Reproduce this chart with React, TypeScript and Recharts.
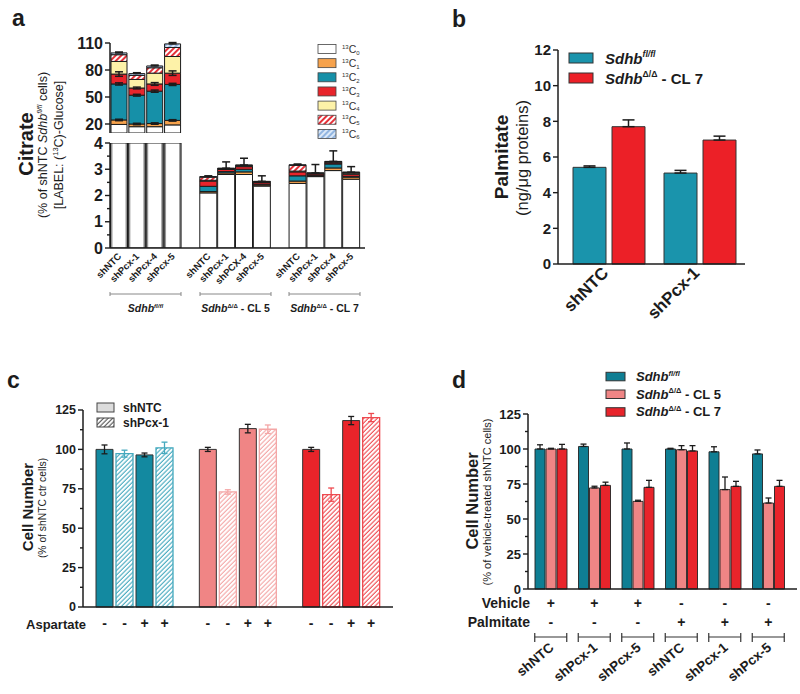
import React from 'react';
import { BarChart, Bar, XAxis, YAxis, ErrorBar, Cell, LabelList } from 'recharts';

const FONT = '"Liberation Sans", Arial, Helvetica, sans-serif';
const INK = '#1c1c1c';

// ---- a: citrate isotopologues, 13C-glucose ----
const citrateLabels = ['shNTC', 'shPcx-1', 'shPcx-4', 'shPcx-5', 'shNTC', 'shPcx-1', 'shPCX-4', 'shPcx-5', 'shNTC', 'shPcx-1', 'shPcx-4', 'shPcx-5'];
const citrateC0 = [19.5, 17, 17, 19, 2.1, 2.8, 2.8, 2.36, 2.46, 2.72, 2.95, 2.62];
const citrateC1 = [5, 3, 3.5, 5, 0.05, 0.06, 0.1, 0.04, 0.09, 0.03, 0.1, 0.08];
const citrateC2 = [40, 32, 36, 40, 0.2, 0.05, 0.1, 0.03, 0.2, 0.02, 0.15, 0.03];
const citrateC3 = [11, 8, 8, 12.5, 0.2, 0.08, 0.1, 0.06, 0.15, 0.05, 0.04, 0.08];
const citrateC4 = [14, 9.5, 12, 18.5, 0.03, 0.02, 0.03, 0.02, 0.03, 0.02, 0.03, 0.04];
const citrateC5 = [7.5, 4.5, 6, 10, 0.12, 0.02, 0.02, 0.02, 0.22, 0.01, 0.02, 0.03];
const citrateC6 = [2, 2, 2, 4, 0.02, 0.01, 0.01, 0.01, 0.02, 0.01, 0.01, 0.01];
const citrateErrC1 = [0.8, 0.8, 0.8, 0.8, 0, 0, 0, 0, 0, 0, 0, 0];
const citrateErrC2 = [1.2, 1, 1.2, 1.2, 0, 0, 0, 0, 0, 0, 0, 0];
const citrateErrC3 = [2.5, 1, 1.5, 2.5, 0, 0, 0, 0, 0, 0, 0, 0];
const citrateErrTop = [1, 1, 1, 1.5, 0.03, 0.24, 0.26, 0.21, 0.03, 0.32, 0.4, 0.21];

const isoValues = [citrateC0, citrateC1, citrateC2, citrateC3, citrateC4, citrateC5, citrateC6];
const isoErrs = [null, citrateErrC1, citrateErrC2, citrateErrC3, null, null, null];
const isoFills = ['#ffffff', '#f6a24c', '#1690a8', '#e8252b', '#fdf2a8', 'url(#hatchC5)', 'url(#hatchC6)'];

// ---- b: palmitate ----
const palmCats = ['shNTC', 'shPcx-1'];
const palmFl = [5.42, 5.1];
const palmFlErr = [0.08, 0.15];
const palmCl7 = [7.7, 6.95];
const palmCl7Err = [0.38, 0.22];

// ---- c: aspartate rescue ----
const aspGroups = ['fl', 'cl5', 'cl7'];
const ntcNoAsp = [100, 100, 100];
const ntcNoAspErr = [2.8, 1.3, 1.3];
const pcxNoAsp = [97.3, 73, 71.3];
const pcxNoAspErr = [2.2, 1.4, 4.2];
const ntcAsp = [96.5, 113.2, 118.3];
const ntcAspErr = [1.2, 2.7, 2.6];
const pcxAsp = [101, 112.8, 120.2];
const pcxAspErr = [3.6, 2.7, 2.6];
const aspSigns = ['-', '-', '+', '+'];

// ---- d: palmitate rescue ----
const treatLabels = ['shNTC', 'shPcx-1', 'shPcx-5', 'shNTC', 'shPcx-1', 'shPcx-5'];
const vehicleSigns = ['+', '+', '+', '-', '-', '-'];
const palmitateSigns = ['-', '-', '-', '+', '+', '+'];
const cellsFl = [100, 101.8, 100, 100, 98, 96.5];
const cellsFlErr = [3, 1.7, 4.3, 0.5, 3.6, 2.8];
const cellsCl5 = [100, 72.2, 62.6, 99.5, 71, 61.4];
const cellsCl5Err = [0.5, 1.2, 0.8, 2.9, 9, 3.6];
const cellsCl7 = [100, 74, 72.6, 98.6, 73.3, 73.3];
const cellsCl7Err = [3.3, 2.3, 5, 3.8, 3.6, 4.3];

// rows for the two halves of the broken axis in a
const buildCitrateRows = (part: 'top' | 'bottom') => {
  const rows: any[] = [];
  citrateLabels.forEach((label, i) => {
    const grp = Math.floor(i / 4);
    if (i > 0 && i % 4 === 0) {
      const gap: any = { label: '', grp: -1, topErr: 0 };
      isoValues.forEach((_, k) => { gap[`c${k}`] = 0; gap[`e${k}`] = 0; });
      rows.push(gap);
    }
    const row: any = { label, grp };
    // top half only shows the Sdhb fl/fl bars, bottom half shows only their C0 base
    const shown = part === 'top' ? grp === 0 : true;
    isoValues.forEach((vals, k) => {
      const keep = shown && (part === 'top' || grp > 0 || k === 0);
      row[`c${k}`] = keep ? vals[i] : 0;
      const e = isoErrs[k];
      row[`e${k}`] = part === 'top' && e && e[i] ? e[i] : 0;
    });
    const topShown = part === 'top' ? grp === 0 : grp > 0;
    row.topErr = topShown ? [0, citrateErrTop[i]] : 0;
    rows.push(row);
  });
  return rows;
};
const citrateTopRows = buildCitrateRows('top');
const citrateBottomRows = buildCitrateRows('bottom');

const palmRows = palmCats.map((name, i) => ({
  name, fl: palmFl[i], flErr: [0, palmFlErr[i]], cl7: palmCl7[i], cl7Err: [0, palmCl7Err[i]],
}));

const aspSeries = [
  { vals: ntcNoAsp, errs: ntcNoAspErr, hatched: false },
  { vals: pcxNoAsp, errs: pcxNoAspErr, hatched: true },
  { vals: ntcAsp, errs: ntcAspErr, hatched: false },
  { vals: pcxAsp, errs: pcxAspErr, hatched: true },
];
const aspColors = ['#1389a0', '#f08585', '#e9242a'];
const aspHatchStroke = ['#44a9be', '#f4a6a6', '#ee4a50'];
const aspHatchIds = ['hatchTeal', 'hatchPink', 'hatchRed'];

const aspRows = aspGroups.map((grp, g) => {
  const row: any = { grp };
  aspSeries.forEach((s, p) => {
    aspGroups.forEach((_, gg) => {
      row[`v${p}_${gg}`] = gg === g ? s.vals[g] : 0;
      row[`e${p}_${gg}`] = gg === g ? s.errs[g] : 0;
    });
  });
  return row;
});

const treatKeys = treatLabels.map((l, i) => `${i}-${l}`);
const treatRows = treatKeys.map((key, i) => ({
  key,
  fl: cellsFl[i], flErr: [0, cellsFlErr[i]],
  cl5: cellsCl5[i], cl5Err: [0, cellsCl5Err[i]],
  cl7: cellsCl7[i], cl7Err: [0, cellsCl7Err[i]],
}));

const genotypes = [
  { key: 'fl', sup: 'fl/fl', rest: '', d: '#0f7e93' },
  { key: 'cl5', sup: 'Δ/Δ', rest: ' - CL 5', d: '#ef8585' },
  { key: 'cl7', sup: 'Δ/Δ', rest: ' - CL 7', d: '#e8242b' },
];

const axisStyle = { stroke: INK, strokeWidth: 1.5 };

const yTick = (fontSize: number, isMajor: (v: number) => boolean) => (p: any) => {
  const { x, y, payload } = p;
  const major = isMajor(payload.value);
  return (
    <g>
      <line x1={x} x2={x - (major ? 5 : 3)} y1={y} y2={y} stroke={INK} strokeWidth={1.4} />
      {major && (
        <text x={x - 7} y={y} dy="0.35em" textAnchor="end" fontFamily={FONT} fontWeight="bold" fontSize={fontSize} fill={INK}>
          {payload.value}
        </text>
      )}
    </g>
  );
};

const CitrateTick = (p: any) => {
  const { x, y, payload } = p;
  if (!payload || !payload.value) return null;
  return (
    <text transform={`translate(${x + 3},${y + 9}) rotate(-45)`} textAnchor="end" fontFamily={FONT} fontWeight="bold" fontSize={9.5} fill={INK}>
      {payload.value}
    </text>
  );
};

const PalmTick = (p: any) => {
  const { x, y, payload } = p;
  return (
    <text transform={`translate(${x + 1},${y + 10}) rotate(-45)`} textAnchor="end" fontFamily={FONT} fontWeight="bold" fontSize={17} fill={INK}>
      {payload.value}
    </text>
  );
};

const TreatTick = (p: any) => {
  const { x, y, payload } = p;
  const i = treatKeys.indexOf(payload.value);
  if (i < 0) return null;
  return (
    <g fontFamily={FONT} fontWeight="bold" fill={INK}>
      <text x={x} y={y + 19} textAnchor="middle" fontSize={14}>{vehicleSigns[i]}</text>
      <text x={x} y={y + 38} textAnchor="middle" fontSize={14}>{palmitateSigns[i]}</text>
      <line x1={x - 16} x2={x + 16} y1={y + 48} y2={y + 48} stroke="#333" strokeWidth={1.2} />
      <line x1={x - 16} x2={x - 16} y1={y + 44} y2={y + 53} stroke="#333" strokeWidth={1.2} />
      <line x1={x + 16} x2={x + 16} y1={y + 44} y2={y + 53} stroke="#333" strokeWidth={1.2} />
      <text transform={`translate(${x + 4},${y + 60}) rotate(-40)`} textAnchor="end" fontSize={13.5}>{treatLabels[i]}</text>
    </g>
  );
};

const signLabel = (lp: any, sign: string) => {
  const vb = lp.viewBox && lp.viewBox.width != null ? lp.viewBox : lp;
  const { x, y, width, height } = vb;
  if (!(Math.abs(height) > 0.5)) return null;
  return (
    <text x={x + width / 2} y={y + height + 21} textAnchor="middle" fontFamily={FONT} fontWeight="bold" fontSize={14} fill={INK}>
      {sign}
    </text>
  );
};

const Abs = ({ left, top, children }: any) => (
  <div style={{ position: 'absolute', left, top }}>{children}</div>
);

const citrateBars = (part: 'top' | 'bottom', rows: any[]) =>
  isoFills.map((fill, k) => (
    <Bar key={k} dataKey={`c${k}`} stackId="iso" fill={fill} stroke={INK} strokeWidth={1} isAnimationActive={false}>
      {part === 'bottom' && k === 0 &&
        rows.map((r, i) => <Cell key={i} fill={r.grp === 0 ? 'url(#grayEdge)' : '#ffffff'} />)}
      {part === 'top' && isoErrs[k] && (
        <ErrorBar dataKey={`e${k}`} width={4} stroke={INK} strokeWidth={1.5} isAnimationActive={false} />
      )}
      {k === 6 && <ErrorBar dataKey="topErr" width={4} stroke={INK} strokeWidth={1.5} isAnimationActive={false} />}
    </Bar>
  ));

const CitrateTop = () => (
  <BarChart width={420} height={140} data={citrateTopRows} margin={{ top: 43, right: 55, bottom: 7, left: 80 }} barCategoryGap={1}>
    <XAxis dataKey="label" hide padding={{ left: 0, right: 5 }} />
    <YAxis width={30} domain={[10, 110]} allowDataOverflow ticks={[20, 50, 80, 110]} interval={0}
      axisLine={axisStyle} tickLine={false} tickSize={0} tickMargin={0} tick={yTick(16, () => true)} />
    {citrateBars('top', citrateTopRows)}
  </BarChart>
);

const CitrateBottom = () => (
  <BarChart width={420} height={320} data={citrateBottomRows} margin={{ top: 143, right: 55, bottom: 32, left: 80 }} barCategoryGap={0.5}>
    <XAxis dataKey="label" height={40} padding={{ left: 0, right: 5 }} interval={0} axisLine={axisStyle}
      tickLine={false} tickSize={0} tickMargin={0} tick={CitrateTick} />
    <YAxis width={30} domain={[0, 4]} allowDataOverflow ticks={[0, 0.5, 1, 1.5, 2, 2.5, 3, 3.5, 4]} interval={0}
      axisLine={axisStyle} tickLine={false} tickSize={0} tickMargin={0} tick={yTick(16, (v) => Number.isInteger(v))} />
    {citrateBars('bottom', citrateBottomRows)}
  </BarChart>
);

const PalmChart = () => (
  <BarChart width={380} height={330} data={palmRows} margin={{ top: 50, right: 55, bottom: 30, left: 108 }} barSize={33} barGap={6}>
    <XAxis dataKey="name" height={36} padding={{ left: 5, right: 0 }} interval={0} axisLine={axisStyle}
      tickLine={false} tickSize={0} tickMargin={0} tick={PalmTick} />
    <YAxis width={30} domain={[0, 12]} ticks={[0, 2, 4, 6, 8, 10, 12]} interval={0}
      axisLine={axisStyle} tickLine={false} tickSize={0} tickMargin={0} tick={yTick(15, () => true)} />
    <Bar dataKey="fl" fill="#1a94ac" stroke="#333" strokeWidth={1} isAnimationActive={false}>
      <ErrorBar dataKey="flErr" width={6} stroke={INK} strokeWidth={1.5} isAnimationActive={false} />
    </Bar>
    <Bar dataKey="cl7" fill="#ec2027" stroke="#333" strokeWidth={1} isAnimationActive={false}>
      <ErrorBar dataKey="cl7Err" width={6} stroke={INK} strokeWidth={1.5} isAnimationActive={false} />
    </Bar>
  </BarChart>
);

const AspChart = () => (
  <BarChart width={420} height={384} data={aspRows} margin={{ top: 100, right: 27, bottom: 57, left: 48 }} barSize={17} barGap={3}>
    <XAxis dataKey="grp" height={30} tick={false} tickLine={false} axisLine={axisStyle} />
    <YAxis width={35} domain={[0, 125]} ticks={[0, 12.5, 25, 37.5, 50, 62.5, 75, 87.5, 100, 112.5, 125]} interval={0}
      axisLine={axisStyle} tickLine={false} tickSize={0} tickMargin={0} tick={yTick(12.5, (v) => v % 25 === 0)} />
    {aspSeries.map((s, p) =>
      aspGroups.map((_, g) => (
        <Bar key={`${p}-${g}`} dataKey={`v${p}_${g}`} stackId={`s${p}`} isAnimationActive={false}
          fill={s.hatched ? `url(#${aspHatchIds[g]})` : aspColors[g]}
          stroke={s.hatched ? aspHatchStroke[g] : '#333'} strokeWidth={s.hatched ? 1.3 : 1}>
          <ErrorBar dataKey={`e${p}_${g}`} width={3} strokeWidth={1.3} isAnimationActive={false}
            stroke={s.hatched ? aspHatchStroke[g] : INK} />
          <LabelList content={(lp: any) => signLabel(lp, aspSigns[p])} />
        </Bar>
      ))
    )}
  </BarChart>
);

const TreatChart = () => (
  <BarChart width={400} height={384} data={treatRows} margin={{ top: 104, right: 3, bottom: 5, left: 93 }} barSize={10} barGap={1}>
    <XAxis dataKey="key" height={100} padding={{ left: 1, right: 7 }} interval={0} axisLine={axisStyle}
      tickLine={false} tickSize={0} tickMargin={0} tick={TreatTick} />
    <YAxis width={35} domain={[0, 125]} ticks={[0, 12.5, 25, 37.5, 50, 62.5, 75, 87.5, 100, 112.5, 125]} interval={0}
      axisLine={axisStyle} tickLine={false} tickSize={0} tickMargin={0} tick={yTick(13, (v) => v % 25 === 0)} />
    {genotypes.map((gt) => (
      <Bar key={gt.key} dataKey={gt.key} fill={gt.d} stroke="#222" strokeWidth={0.9} isAnimationActive={false}>
        <ErrorBar dataKey={`${gt.key}Err`} width={3} stroke={INK} strokeWidth={1.3} isAnimationActive={false} />
      </Bar>
    ))}
  </BarChart>
);

const Patterns = () => (
  <svg width={0} height={0} style={{ position: 'absolute' }}>
    <defs>
      <pattern id="grayEdge" width={1} height={1} patternUnits="objectBoundingBox" patternContentUnits="objectBoundingBox">
        <rect width={1} height={1} fill="#8a8a8a" />
        <rect x={0.11} y={0} width={0.78} height={1} fill="#ffffff" />
      </pattern>
      <pattern id="hatchC5" width={4} height={4} patternUnits="userSpaceOnUse" patternTransform="rotate(45)">
        <rect width={4} height={4} fill="#fff" />
        <line x1={1} y1={0} x2={1} y2={4} stroke="#e5323a" strokeWidth={2} />
      </pattern>
      <pattern id="hatchC6" width={4} height={4} patternUnits="userSpaceOnUse" patternTransform="rotate(45)">
        <rect width={4} height={4} fill="#dbe8f7" />
        <line x1={1} y1={0} x2={1} y2={4} stroke="#7fa8dc" strokeWidth={1.6} />
      </pattern>
      {aspHatchIds.map((id, g) => (
        <pattern key={id} id={id} width={3.2} height={3.2} patternUnits="userSpaceOnUse" patternTransform="rotate(45)">
          <rect width={3.2} height={3.2} fill="#fff" />
          <line x1={1} y1={0} x2={1} y2={3.2} stroke={aspHatchStroke[g]} strokeWidth={1.1} />
        </pattern>
      ))}
      <pattern id="hatchGray" width={3.2} height={3.2} patternUnits="userSpaceOnUse" patternTransform="rotate(45)">
        <rect width={3.2} height={3.2} fill="#fff" />
        <line x1={1} y1={0} x2={1} y2={3.2} stroke="#555" strokeWidth={1.1} />
      </pattern>
    </defs>
  </svg>
);

const SdhbSpans = ({ sup, rest, size }: any) => (
  <>
    <tspan fontStyle="italic">Sdhb</tspan>
    <tspan fontSize={size * 0.58} dy={-size * 0.42} fontStyle={sup === 'fl/fl' ? 'italic' : 'normal'}>{sup}</tspan>
    <tspan fontSize={size} dy={size * 0.42}>{rest}</tspan>
  </>
);

const Overlay = () => (
  <svg width={800} height={694} style={{ position: 'absolute', left: 0, top: 0, pointerEvents: 'none' }}
    fontFamily={FONT} fill={INK}>
    {/* panel letters */}
    <text x={12} y={26} fontSize={23} fontWeight="bold">a</text>
    <text x={452} y={27} fontSize={23} fontWeight="bold">b</text>
    <text x={7} y={388} fontSize={23} fontWeight="bold">c</text>
    <text x={452} y={388} fontSize={23} fontWeight="bold">d</text>

    {/* a */}
    <text transform="translate(33,144) rotate(-90)" textAnchor="middle" fontSize={20} fontWeight="bold">Citrate</text>
    <text transform="translate(47,145) rotate(-90)" textAnchor="middle" fontSize={12.5}>
      (% of shNTC <SdhbSpans sup="fl/fl" rest=" cells)" size={12.5} />
    </text>
    <text transform="translate(63,145) rotate(-90)" textAnchor="middle" fontSize={12.5}>
      [LABEL: (<tspan fontSize={7.5} dy={-5}>13</tspan><tspan dy={5}>C)-Glucose]</tspan>
    </text>
    {isoFills.map((fill, k) => {
      const cy = 49 + k * 14.15;
      return (
        <g key={k}>
          <rect x={318} y={cy - 4.5} width={18} height={9} fill={fill} stroke="#444" strokeWidth={0.8} />
          <text x={342} y={cy + 4} fontSize={10.5} fill="#333">
            <tspan fontSize={6} dy={-4.5}>13</tspan>
            <tspan dy={4.5}>C</tspan>
            <tspan fontSize={6} dy={1.5}>{k}</tspan>
          </text>
        </g>
      );
    })}
    {[[110, 181, 'fl/fl', ''], [200, 271, 'Δ/Δ', ' - CL 5'], [289, 360, 'Δ/Δ', ' - CL 7']].map(([x1, x2, sup, rest]: any, i) => (
      <g key={i}>
        <line x1={x1} x2={x2} y1={294} y2={294} stroke="#888" strokeWidth={1} />
        <line x1={x1} x2={x1} y1={292} y2={296} stroke="#888" strokeWidth={1} />
        <line x1={x2} x2={x2} y1={292} y2={296} stroke="#888" strokeWidth={1} />
        <text x={(x1 + x2) / 2} y={312} textAnchor="middle" fontSize={10.5} fontWeight="bold">
          <SdhbSpans sup={sup} rest={rest} size={10.5} />
        </text>
      </g>
    ))}

    {/* b */}
    <text transform="translate(508,157) rotate(-90)" textAnchor="middle" fontSize={19} fontWeight="bold">Palmitate</text>
    <text transform="translate(528,158) rotate(-90)" textAnchor="middle" fontSize={16.5}>(ng/μg proteins)</text>
    {[genotypes[0], genotypes[2]].map((gt, i) => (
      <g key={gt.key}>
        <rect x={569} y={53 + i * 20} width={24} height={10} fill={i === 0 ? '#1a94ac' : '#ec2027'} stroke="#333" strokeWidth={1} />
        <text x={605} y={63.5 + i * 20} fontSize={15} fontWeight="bold">
          <SdhbSpans sup={gt.sup} rest={gt.rest} size={15} />
        </text>
      </g>
    ))}

    {/* c */}
    <text transform="translate(33,507) rotate(-90)" textAnchor="middle" fontSize={15} fontWeight="bold">Cell Number</text>
    <text transform="translate(46,508) rotate(-90)" textAnchor="middle" fontSize={10.3}>(% of shNTC ctr cells)</text>
    <rect x={97} y={403} width={17} height={9} fill="#dcdcdc" stroke="#444" strokeWidth={1} />
    <rect x={97} y={418} width={17} height={9} fill="url(#hatchGray)" stroke="#444" strokeWidth={1} />
    <text x={123} y={411.5} fontSize={12} fontWeight="bold">shNTC</text>
    <text x={123} y={427} fontSize={12} fontWeight="bold">shPcx-1</text>
    <text x={86} y={628.5} textAnchor="end" fontSize={13} fontWeight="bold">Aspartate</text>

    {/* d */}
    <text transform="translate(478,501) rotate(-90)" textAnchor="middle" fontSize={16.5} fontWeight="bold">Cell Number</text>
    <text transform="translate(491,502) rotate(-90)" textAnchor="middle" fontSize={11}>(% of vehicle-treated shNTC cells)</text>
    {genotypes.map((gt, i) => (
      <g key={gt.key}>
        <rect x={606} y={372.3 + i * 17.7} width={19} height={8.5} fill={gt.d} stroke="#333" strokeWidth={1} />
        <text x={636} y={381 + i * 17.7} fontSize={13} fontWeight="bold">
          <SdhbSpans sup={gt.sup} rest={gt.rest} size={13} />
        </text>
      </g>
    ))}
    <text x={530} y={608} textAnchor="end" fontSize={14} fontWeight="bold">Vehicle</text>
    <text x={530} y={627} textAnchor="end" fontSize={14} fontWeight="bold">Palmitate</text>
  </svg>
);

export default function App() {
  return (
    <div style={{ position: 'absolute', left: 0, top: 0, width: 800, height: 694, background: '#fff', fontFamily: FONT }}>
      <Patterns />
      <Abs left={0} top={0}><CitrateBottom /></Abs>
      <Abs left={0} top={0}><CitrateTop /></Abs>
      <Abs left={420} top={0}><PalmChart /></Abs>
      <Abs left={0} top={310}><AspChart /></Abs>
      <Abs left={400} top={310}><TreatChart /></Abs>
      <Overlay />
    </div>
  );
}
